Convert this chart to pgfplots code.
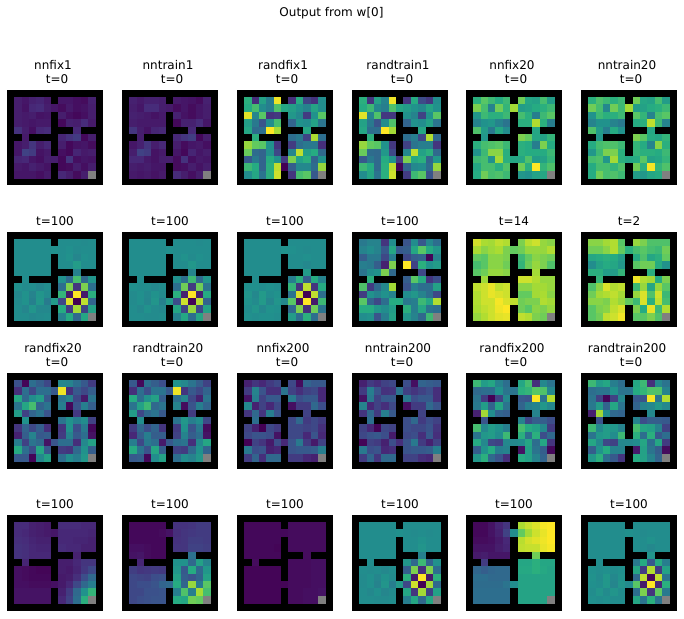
\documentclass[border=0pt]{standalone}
\usepackage{fontspec}
\setmainfont{DejaVu Sans}
\usepackage{pgfplots}
\pgfplotsset{compat=1.18}
% 0 = wall (black), 1..97 = viridis, 98 = goal cell (grey)
\pgfplotsset{colormap={vw}{rgb255(0pt)=(0,0,0) rgb255(1pt)=(68,1,84) rgb255(13pt)=(71,44,122)
  rgb255(25pt)=(59,81,139) rgb255(37pt)=(44,113,142) rgb255(49pt)=(33,144,141)
  rgb255(61pt)=(39,173,129) rgb255(73pt)=(92,200,99) rgb255(85pt)=(170,220,50)
  rgb255(97pt)=(253,231,37) rgb255(98pt)=(128,128,128)}}
\makeatletter
\newcommand\panel[4]{%
  \gdef\cbuf{}%
  \@for\v:=#4\do{\xdef\cbuf{\unexpanded\expandafter{\cbuf}\v\noexpand\\}}%
  \begin{axis}[
    at={(#1pt,#2pt)}, anchor=north west,
    width=96pt, height=95.5pt, scale only axis,
    xmin=-1.5, xmax=11.5, ymin=-1.5, ymax=11.5, y dir=reverse,
    ticks=none, axis line style={draw=none},
    axis background/.style={fill=black},
    colormap name=vw, point meta min=0, point meta max=98,
    title={#3},
    title style={align=center, font=\fontsize{12}{14}\selectfont, yshift=-3pt},
  ]
  \edef\tmp{\noexpand\addplot[matrix plot*, mesh/cols=11, point meta=explicit]
    table[row sep=crcr, header=false, x expr={mod(\noexpand\coordindex,11)},
      y expr={floor(\noexpand\coordindex/11)}, meta index=0]
    {\unexpanded\expandafter{\cbuf}};}%
  \tmp
  \end{axis}%
}
\makeatother
\newcommand\tl[1]{#1\hspace*{4pt}\\\hspace*{4pt}t=0}
\begin{document}
\begin{tikzpicture}
\path[use as bounding box] (0pt,0pt) rectangle (684pt,618pt);
\node[font=\fontsize{12}{14}\selectfont] at (331.5pt,605pt) {Output from w[0]};
% row 1
\panel{7}{528}{\tl{nnfix1}}{%
9,7,10,11,8,0,7,7,5,4,10,%
9,6,12,13,9,7,4,8,5,6,9,%
9,8,9,6,7,0,9,5,3,5,9,%
9,8,7,8,8,0,3,10,9,13,8,%
15,9,5,12,13,0,0,0,12,0,0,%
0,8,0,0,0,0,11,15,18,3,9,%
7,9,16,9,12,0,9,3,6,7,4,%
7,20,18,6,8,0,5,3,11,8,9,%
11,12,7,5,9,9,3,16,5,7,6,%
8,7,10,8,6,0,3,4,9,5,9,%
7,7,7,5,8,0,12,9,4,9,98}
\panel{122}{528}{\tl{nntrain1}}{%
10,8,10,10,9,0,8,7,6,4,10,%
9,7,13,13,9,8,4,7,4,7,9,%
10,9,8,6,8,0,10,6,4,7,9,%
9,8,8,8,8,0,3,10,10,13,7,%
16,9,6,11,12,0,0,0,12,0,0,%
0,9,0,0,0,0,12,16,19,3,9,%
7,10,16,9,12,0,9,4,7,8,5,%
9,20,18,6,8,0,7,3,11,7,9,%
12,12,8,6,9,9,4,15,5,8,7,%
9,8,9,7,7,0,4,5,9,6,9,%
8,7,8,6,8,0,13,9,5,9,98}
\panel{237}{528}{\tl{randfix1}}{%
62,14,56,42,95,0,14,60,21,15,48,%
60,68,48,42,70,58,55,50,44,57,48,%
93,45,72,15,17,0,52,46,18,50,72,%
55,40,26,48,68,0,32,50,48,56,38,%
58,35,36,97,84,0,0,0,58,0,0,%
0,62,0,0,0,0,36,40,20,85,36,%
82,74,72,50,16,0,18,36,40,40,14,%
75,35,32,50,22,0,45,88,55,60,34,%
28,40,32,60,50,18,78,56,62,32,50,%
66,60,32,62,88,1,30,46,46,35,82,%
48,58,38,62,90,0,16,68,72,28,98}
\panel{352}{528}{\tl{randtrain1}}{%
62,16,56,44,95,0,16,60,23,17,48,%
60,66,46,42,70,58,54,50,46,57,50,%
93,44,70,17,17,0,50,44,20,50,72,%
56,40,26,48,70,0,32,50,48,56,38,%
58,36,36,97,84,0,0,0,58,0,0,%
0,62,0,0,0,0,36,42,22,86,34,%
82,74,72,50,17,0,20,38,42,42,16,%
75,35,34,52,22,0,46,88,56,62,34,%
28,40,34,60,50,18,78,58,62,32,52,%
66,60,34,62,88,2,32,46,48,35,82,%
48,58,38,62,90,0,18,66,72,26,98}
\panel{466}{528}{\tl{nnfix20}}{%
62,72,66,60,66,0,76,58,56,68,54,%
78,68,44,76,64,84,54,56,60,62,66,%
52,66,62,62,66,0,68,62,42,66,72,%
44,50,52,44,38,0,62,62,86,62,42,%
70,54,40,58,48,0,0,0,58,0,0,%
0,52,0,0,0,0,78,74,58,56,64,%
62,68,70,72,66,0,62,60,42,78,60,%
50,66,80,80,62,0,62,60,60,60,66,%
66,68,50,84,62,58,58,70,54,56,64,%
58,68,68,62,70,0,76,62,97,64,70,%
60,76,68,70,66,0,52,50,56,58,98}
\panel{581}{528}{\tl{nntrain20}}{%
62,70,66,62,66,0,76,58,56,68,54,%
76,68,46,76,66,84,54,56,60,62,66,%
50,66,62,62,66,0,72,64,44,68,72,%
44,50,50,44,40,0,60,62,88,66,44,%
70,54,42,60,50,0,0,0,58,0,0,%
0,52,0,0,0,0,78,72,60,58,64,%
60,68,70,70,66,0,64,60,44,80,62,%
52,66,78,78,62,0,64,62,62,60,66,%
68,70,52,84,62,58,60,72,56,58,64,%
60,68,68,64,70,0,76,62,96,64,70,%
60,76,68,70,66,0,54,52,58,60,98}
% row 2
\panel{7}{386}{t=100}{%
48,48,48,48,48,0,48,48,48,47,48,%
48,48,48,48,48,49,48,49,47,48,48,%
48,48,48,48,48,0,48,50,45,49,48,%
48,48,48,48,48,0,48,48,54,48,48,%
48,48,48,48,48,0,0,0,43,0,0,%
0,48,0,0,0,0,49,34,68,34,51,%
49,47,48,45,48,0,36,78,16,78,36,%
46,50,44,51,47,0,64,8,97,8,62,%
47,50,43,52,41,53,22,92,1,88,32,%
48,45,51,46,46,0,60,18,84,20,56,%
48,48,46,47,48,0,44,60,34,58,98}
\panel{122}{386}{t=100}{%
48,48,48,48,48,0,48,48,48,47,48,%
48,48,48,48,48,49,48,48,48,48,48,%
48,48,48,48,48,0,48,50,47,49,48,%
48,48,48,48,48,0,48,48,52,48,48,%
48,48,48,48,48,0,0,0,44,0,0,%
0,48,0,0,0,0,49,36,66,34,51,%
49,48,48,46,48,0,36,76,18,76,38,%
47,49,46,50,47,0,62,10,97,10,60,%
47,49,45,51,43,53,24,90,2,86,32,%
48,46,50,47,46,0,58,20,82,22,56,%
48,48,47,47,48,0,44,58,36,58,98}
\panel{237}{386}{t=100}{%
48,48,48,48,48,0,48,48,48,48,48,%
48,48,48,48,48,50,49,48,47,48,48,%
48,48,48,48,48,0,48,48,49,48,48,%
48,48,48,48,48,0,48,48,46,48,48,%
48,48,48,48,48,0,0,0,53,0,0,%
0,48,0,0,0,0,42,62,30,60,44,%
49,49,48,49,48,0,64,16,88,16,60,%
51,46,53,48,50,0,38,92,1,88,36,%
50,47,53,45,51,46,72,6,97,8,66,%
48,51,46,50,49,0,34,78,14,76,38,%
49,48,49,49,48,0,54,36,62,36,98}
\panel{352}{386}{t=100}{%
40,44,44,16,48,0,26,48,28,46,36,%
44,48,44,28,58,28,30,58,72,60,52,%
30,40,40,22,42,0,22,30,32,2,44,%
42,40,30,10,78,0,97,20,62,50,54,%
38,48,50,78,34,0,0,0,22,0,0,%
0,62,0,0,0,0,30,72,60,16,24,%
70,18,34,46,84,0,26,42,36,36,56,%
18,50,44,50,44,0,48,52,44,36,22,%
72,32,22,36,60,60,40,42,66,58,86,%
60,60,52,48,54,0,62,42,58,38,36,%
48,50,26,42,56,0,52,44,34,66,98}
\panel{466}{386}{t=14}{%
91,85,84,88,86,0,78,87,90,82,80,%
85,80,83,85,78,74,76,82,82,82,86,%
74,72,80,80,78,0,66,74,80,78,76,%
68,72,80,80,76,0,64,76,82,78,70,%
72,76,82,82,80,0,0,0,84,0,0,%
0,83,0,0,0,0,90,90,86,82,82,%
88,90,94,88,90,0,80,80,84,84,82,%
86,90,94,92,90,0,74,74,84,85,80,%
86,90,90,96,92,88,76,78,78,86,84,%
85,88,90,95,97,0,76,72,80,78,82,%
82,86,90,93,94,0,88,86,78,76,98}
\panel{581}{386}{t=2}{%
80,80,84,86,72,0,82,78,70,70,70,%
76,76,80,86,74,62,68,72,68,66,76,%
58,60,62,60,54,0,60,70,58,62,74,%
48,56,60,58,52,0,72,76,76,60,50,%
62,62,54,54,64,0,0,0,62,0,0,%
0,64,0,0,0,0,95,86,84,60,78,%
70,80,92,86,88,0,66,82,58,82,72,%
76,84,86,88,84,0,82,92,70,90,66,%
80,80,78,86,82,74,66,92,62,88,68,%
72,78,80,88,92,0,78,60,94,66,86,%
72,76,88,90,95,0,72,72,78,70,98}
% row 3
\panel{7}{245}{\tl{randfix20}}{%
25,2,36,30,22,0,45,44,36,28,18,%
14,36,22,36,36,28,95,14,28,22,30,%
58,34,48,54,28,0,38,44,22,8,38,%
38,58,68,32,38,0,42,3,26,42,30,%
54,20,32,38,26,0,0,0,17,0,0,%
0,50,0,0,0,0,38,50,42,48,20,%
16,32,22,30,14,0,16,50,24,40,3,%
10,30,44,28,30,0,18,44,28,36,6,%
42,20,38,34,6,26,36,36,14,46,56,%
60,36,24,58,28,0,18,16,34,50,30,%
28,28,2,46,56,0,36,48,42,52,98}
\panel{122}{245}{\tl{randtrain20}}{%
28,3,36,30,24,0,50,46,38,30,20,%
14,36,24,38,38,28,95,16,28,22,32,%
60,36,50,56,30,0,36,44,22,10,38,%
38,56,66,34,38,0,44,4,26,42,32,%
54,22,34,38,28,0,0,0,18,0,0,%
0,48,0,0,0,0,38,52,42,48,22,%
18,34,24,32,16,0,18,50,26,40,4,%
12,30,42,30,30,0,20,44,30,36,6,%
42,22,40,36,8,28,36,38,14,46,58,%
60,38,26,58,30,0,20,18,34,50,32,%
28,30,3,48,56,0,36,48,44,52,98}
\panel{237}{245}{\tl{nnfix200}}{%
10,16,12,18,22,0,22,4,32,28,28,%
18,44,26,14,14,38,20,14,20,22,12,%
6,42,20,28,28,0,40,24,28,28,12,%
46,10,20,12,22,0,5,18,18,34,24,%
16,34,16,42,26,0,0,0,20,0,0,%
0,36,0,0,0,0,22,34,18,22,18,%
20,10,1,22,18,0,22,22,20,22,14,%
22,26,26,24,6,0,22,22,12,26,12,%
1,20,16,8,24,12,26,40,18,8,20,%
40,24,26,10,12,0,26,28,28,30,42,%
18,32,14,34,34,0,18,18,12,10,98}
\panel{352}{245}{\tl{nntrain200}}{%
10,18,14,20,22,0,24,5,32,30,28,%
18,42,26,15,16,38,20,16,20,24,14,%
6,40,20,28,28,0,40,24,28,28,14,%
44,12,20,14,22,0,5,18,18,34,26,%
16,34,18,42,28,0,0,0,20,0,0,%
0,36,0,0,0,0,24,34,18,24,20,%
20,12,2,22,20,0,24,22,22,26,16,%
22,26,28,24,8,0,22,24,14,28,14,%
2,20,18,10,24,14,26,40,18,10,20,%
40,24,26,12,14,0,26,28,28,30,42,%
18,32,16,34,34,0,20,20,14,12,98}
\panel{466}{245}{\tl{randfix200}}{%
66,54,58,44,36,0,58,68,14,46,38,%
34,36,36,50,38,38,62,64,72,70,46,%
38,18,1,20,46,0,28,26,97,38,86,%
40,54,32,58,38,0,32,42,44,52,46,%
10,84,48,32,30,0,0,0,44,0,0,%
0,26,0,0,0,0,44,22,30,30,24,%
68,46,54,50,42,0,68,60,56,46,18,%
38,52,54,48,66,0,62,36,62,24,34,%
60,46,22,20,46,46,48,58,36,58,16,%
30,50,60,42,44,0,6,56,38,30,3,%
52,62,34,26,14,0,60,56,44,32,98}
\panel{581}{245}{\tl{randtrain200}}{%
66,54,58,42,36,0,58,66,14,46,38,%
36,38,38,50,38,38,60,64,70,70,44,%
38,20,2,20,46,0,28,26,96,38,86,%
40,54,32,58,38,0,32,44,46,52,46,%
10,84,48,34,32,0,0,0,46,0,0,%
0,26,0,0,0,0,44,24,30,30,28,%
66,46,54,52,44,0,68,58,56,44,20,%
38,52,54,48,66,0,62,36,62,28,36,%
58,46,22,20,46,46,48,58,36,58,18,%
30,50,60,44,44,0,8,56,38,30,4,%
52,62,36,28,16,0,60,56,44,32,98}
% row 4
\panel{7}{103}{t=100}{%
13,13,10,9,8,0,13,13,13,12,12,%
13,12,10,9,8,7,12,12,12,12,11,%
14,13,11,10,10,0,12,12,11,11,10,%
15,14,12,11,11,0,13,12,12,10,10,%
15,14,12,12,12,0,0,0,10,0,0,%
0,11,0,0,0,0,9,9,12,16,16,%
5,4,3,2,2,0,9,8,11,17,22,%
5,4,3,3,3,0,8,9,14,24,34,%
5,5,4,4,4,5,8,12,22,34,42,%
6,6,6,6,6,0,10,18,34,50,64,%
6,6,6,6,6,0,12,20,36,62,98}
\panel{122}{103}{t=100}{%
3,3,3,3,3,0,15,15,16,18,18,%
3,3,3,3,4,6,14,16,17,18,18,%
3,3,3,3,3,0,15,16,19,19,18,%
5,5,4,3,3,0,16,16,20,20,19,%
6,7,4,3,3,0,0,0,37,0,0,%
0,11,0,0,0,0,50,50,34,56,44,%
19,16,17,18,17,0,52,28,60,34,52,%
22,21,20,24,25,0,56,30,26,32,56,%
22,24,24,26,32,34,60,32,82,40,72,%
22,22,25,25,26,0,42,70,42,84,68,%
22,24,25,26,26,0,60,58,76,74,98}
\panel{237}{103}{t=100}{%
3,3,3,3,3,0,4,4,4,4,4,%
3,3,3,3,3,3,4,4,4,4,4,%
3,3,3,3,3,0,4,4,4,4,4,%
3,3,3,3,2,0,4,4,4,4,4,%
3,3,3,3,3,0,0,0,4,0,0,%
0,4,0,0,0,0,4,4,4,5,5,%
2,2,2,2,2,0,4,4,4,5,5,%
2,2,2,2,2,0,4,4,4,5,5,%
2,2,2,2,2,2,4,4,4,5,5,%
2,2,2,2,2,0,4,4,5,5,6,%
2,2,2,2,2,0,4,4,5,5,98}
\panel{352}{103}{t=100}{%
48,48,48,48,48,0,48,48,48,48,48,%
48,48,48,48,48,49,48,47,48,47,48,%
48,48,48,48,48,0,48,48,50,48,48,%
48,48,48,48,48,0,48,48,51,48,48,%
48,48,48,48,48,0,0,0,43,0,0,%
0,48,0,0,0,0,52,34,66,32,50,%
48,47,48,46,48,0,30,78,14,78,36,%
47,49,45,50,47,0,62,8,97,8,62,%
47,49,44,51,42,53,22,90,1,84,34,%
48,46,49,45,47,0,58,16,84,20,56,%
48,48,47,47,48,0,42,58,34,58,98}
\panel{466}{103}{t=100}{%
3,3,6,11,16,0,85,89,92,96,97,%
3,3,6,10,20,48,74,84,90,94,97,%
4,4,5,8,12,0,87,91,93,95,97,%
6,6,6,9,11,0,88,89,89,94,96,%
8,9,7,7,7,0,0,0,76,0,0,%
0,18,0,0,0,0,58,58,62,58,58,%
33,30,33,34,34,0,59,59,62,59,57,%
36,36,34,34,34,0,57,57,57,57,57,%
35,35,35,35,38,48,57,57,57,57,57,%
36,36,36,36,36,0,57,57,57,57,57,%
36,36,36,36,36,0,57,57,57,57,98}
\panel{581}{103}{t=100}{%
48,48,48,48,48,0,48,48,48,48,48,%
48,48,48,48,48,49,48,47,48,48,48,%
48,48,48,48,48,0,48,48,50,48,48,%
48,48,48,48,48,0,48,48,46,48,48,%
48,48,48,48,48,0,0,0,51,0,0,%
0,48,0,0,0,0,40,60,28,60,42,%
49,48,49,48,49,0,58,18,86,18,56,%
50,47,52,46,50,0,34,88,3,88,38,%
49,48,52,45,51,47,72,8,97,12,62,%
48,51,47,51,48,0,36,78,16,74,40,%
49,48,49,48,48,0,58,38,62,38,98}
\end{tikzpicture}
\end{document}
